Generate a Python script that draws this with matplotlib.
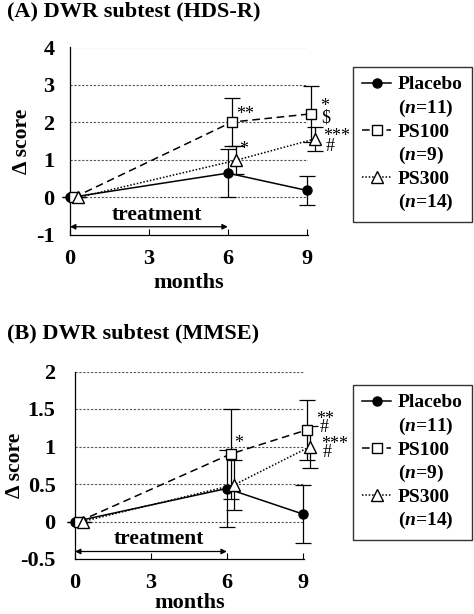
import numpy as np
import matplotlib
matplotlib.use("Agg")
import matplotlib.pyplot as plt
from matplotlib.lines import Line2D

plt.rcParams['font.family'] = ['Liberation Serif', 'DejaVu Serif']
plt.rcParams['mathtext.fontset'] = 'custom'
plt.rcParams['mathtext.it'] = 'Liberation Serif:italic:bold'
plt.rcParams['mathtext.rm'] = 'Liberation Serif:bold'

months = [0, 6, 9]
groups = ['Placebo', 'PS100', 'PS300']
n_sizes = [11, 9, 14]

# (A) HDS-R
hds_mean = {'Placebo': [0, 0.65, 0.19], 'PS100': [0, 2.01, 2.23], 'PS300': [0, 0.99, 1.56]}
hds_err = {'Placebo': [0, 0.63, 0.38], 'PS100': [0, 0.65, 0.75], 'PS300': [0, 0.37, 0.33]}
# (B) MMSE
mmse_mean = {'Placebo': [0, 0.44, 0.10], 'PS100': [0, 0.90, 1.22], 'PS300': [0, 0.49, 1.00]}
mmse_err = {'Placebo': [0, 0.51, 0.39], 'PS100': [0, 0.60, 0.40], 'PS300': [0, 0.33, 0.28]}

hds_marks = [('**', 6.65, 2.22), ('*', 6.6, 1.28), ('*', 9.7, 2.42), ('$', 9.73, 2.12),
             ('***', 10.15, 1.62), ('#', 9.9, 1.35)]
mmse_marks = [('*', 6.48, 1.04), ('**', 9.88, 1.36), ('#', 9.84, 1.25),
              ('***', 10.28, 1.03), ('#', 9.96, 0.92)]

styles = {'Placebo': dict(ls='-', marker='o', mfc='black', ms=6.5),
          'PS100': dict(ls=(0, (5, 3)), marker='s', mfc='white', ms=6.5),
          'PS300': dict(ls=(0, (1, 1.2)), marker='^', mfc='white', ms=8)}
offsets = {'Placebo': 0.0, 'PS100': 0.15, 'PS300': 0.3}

fig = plt.figure(figsize=(4.74, 6.14), dpi=100)


def panel(rect, mean, err, ylim, yticks, yticklabels, marks, arrow_y, text_y, title, title_y,
          leg_rect, ylab_x, ypad, xlabpad):
    ax = fig.add_axes(rect)
    for g in groups:
        x = np.array(months) + offsets[g]
        st = styles[g]
        ax.errorbar(x, mean[g], yerr=err[g], color='black', lw=1.1, ls=st['ls'],
                    marker=st['marker'], mfc=st['mfc'], mec='black', ms=st['ms'],
                    ecolor='black', elinewidth=0.9, capsize=6, capthick=0.9,
                    clip_on=False, zorder=3)
    ax.set_xlim(0, 9.05)
    ax.set_ylim(*ylim)
    ax.set_xticks([0, 3, 6, 9])
    ax.set_yticks(yticks)
    ax.set_yticklabels(yticklabels)
    for y in yticks[1:]:
        ax.axhline(y, color='#555555', lw=0.8, ls=(0, (2, 1.5)), zorder=1)
    for s in ['top', 'right']:
        ax.spines[s].set_visible(False)
    ax.spines['left'].set_linewidth(0.9)
    ax.spines['bottom'].set_linewidth(0.9)
    ax.tick_params(axis='x', direction='in', length=4, labelsize=16, pad=10)
    ax.tick_params(axis='y', length=0, labelsize=16, pad=ypad)
    for lab in ax.get_xticklabels() + ax.get_yticklabels():
        lab.set_fontweight('bold')
    ax.set_xlabel('months', fontsize=16, fontweight='bold', labelpad=xlabpad)
    ax.set_ylabel('Δ score', fontsize=15.5, fontweight='bold')
    ax.yaxis.set_label_coords(ylab_x, 0.5)
    for t, x, y in marks:
        ax.text(x, y, t, fontsize=13, ha='center', va='center', clip_on=False)
    ax.annotate('', xy=(0, arrow_y), xytext=(6, arrow_y),
                arrowprops=dict(arrowstyle='<|-|>', color='black', lw=0.9,
                                mutation_scale=8, shrinkA=0, shrinkB=0))
    ax.text(3.3, text_y, 'treatment', fontsize=15.5, fontweight='bold', ha='center', va='center')
    fig.text(0.015, title_y, title, fontsize=16, fontweight='bold', ha='left', va='center')

    handles = []
    labels = []
    blank = Line2D([], [], color='none')
    for g, n in zip(groups, n_sizes):
        st = styles[g]
        handles.append(Line2D([], [], color='black', lw=1.1, ls=st['ls'], marker=st['marker'],
                              mfc=st['mfc'], mec='black', ms=st['ms']))
        labels.append(g)
        handles.append(blank)
        labels.append('($n$=%d)' % n)
    leg = fig.legend(handles, labels, loc='center', bbox_to_anchor=leg_rect,
                     frameon=True, fancybox=False, edgecolor='black', fontsize=14,
                     handlelength=1.45, handletextpad=0.36, labelspacing=0.22,
                     borderpad=0.47, borderaxespad=0)
    leg.get_frame().set_linewidth(1.0)
    for t in leg.get_texts():
        t.set_fontweight('bold')
    return ax


panel([70 / 474, 1 - 235 / 614, 238 / 474, 187.5 / 614], hds_mean, hds_err,
      (-1, 4), [-1, 0, 1, 2, 3, 4], ['-1', '0', '1', '2', '3', '4'], hds_marks,
      -0.78, -0.47, '(A) DWR subtest (HDS-R)', 1 - 11 / 614,
      (353 / 474, 1 - 222 / 614, 119 / 474, 155 / 614), -0.16, 11, 3)

panel([75 / 474, 1 - 559 / 614, 229 / 474, 187.5 / 614], mmse_mean, mmse_err,
      (-0.5, 2), [-0.5, 0, 0.5, 1, 1.5, 2], ['-0.5', '0', '0.5', '1', '1.5', '2'], mmse_marks,
      -0.40, -0.24, '(B) DWR subtest (MMSE)', 1 - 333 / 614,
      (353 / 474, 1 - 540 / 614, 119 / 474, 155 / 614), -0.22, 14, 0)

fig.savefig('out.png', dpi=100)
